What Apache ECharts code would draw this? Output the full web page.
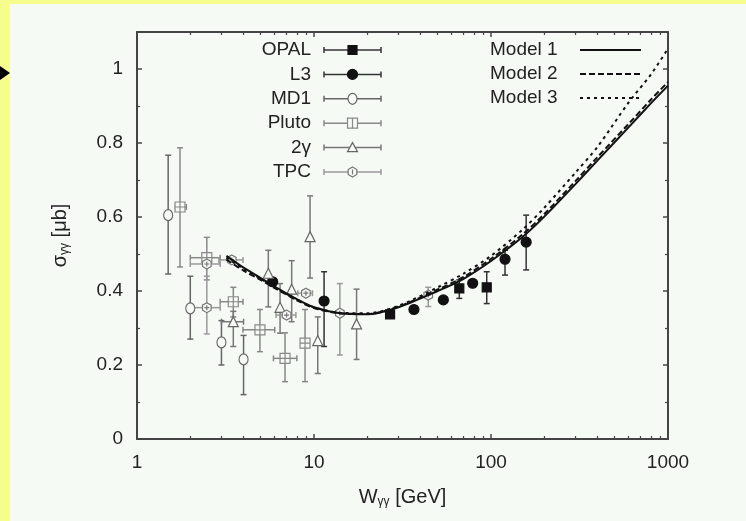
<!DOCTYPE html>
<html lang="en">
<head>
<meta charset="UTF-8">
<title>sigma gamma gamma</title>
<script src="https://cdn.jsdelivr.net/npm/echarts@6/dist/echarts.min.js"></script>
<style>
    html, body { margin: 0; padding: 0; background: #f7fd8c; }
    #main { width: 746px; height: 521px; }
</style>
</head>
<body>
<div id="main"></div>
<script>
    // rows: [W, sigma, sigma low, sigma high, W low, W high]
    var opal = [
        [26.9, 0.337, 0.327, 0.347, 26.9, 26.9],
        [66.2, 0.407, 0.38, 0.43, 66.2, 66.2],
        [94.6, 0.41, 0.366, 0.452, 94.6, 94.6]
    ];
    var l3 = [
        [5.84, 0.425, 0.425, 0.425, 5.84, 5.84],
        [11.4, 0.373, 0.25, 0.452, 11.4, 11.4],
        [36.7, 0.35, 0.35, 0.35, 36.7, 36.7],
        [53.8, 0.376, 0.376, 0.376, 53.8, 53.8],
        [78.8, 0.421, 0.421, 0.421, 78.8, 78.8],
        [120, 0.486, 0.443, 0.51, 120, 120],
        [158, 0.532, 0.457, 0.605, 158, 158]
    ];
    var md1 = [
        [1.5, 0.605, 0.446, 0.767, 1.5, 1.5],
        [2.0, 0.353, 0.27, 0.44, 2.0, 2.0],
        [3.0, 0.261, 0.2, 0.32, 3.0, 3.0],
        [4.0, 0.215, 0.12, 0.28, 4.0, 4.0]
    ];
    var pluto = [
        [1.75, 0.627, 0.465, 0.787, 1.65, 1.9],
        [2.48, 0.49, 0.43, 0.545, 2.0, 2.95],
        [3.5, 0.371, 0.33, 0.41, 2.95, 3.97],
        [4.95, 0.295, 0.236, 0.35, 3.97, 6.0],
        [6.86, 0.218, 0.155, 0.287, 5.9, 8.0],
        [8.9, 0.259, 0.155, 0.35, 8.9, 8.9]
    ];
    var twoGamma = [
        [3.5, 0.317, 0.25, 0.345, 3.0, 4.0],
        [5.52, 0.448, 0.357, 0.51, 5.52, 5.52],
        [6.43, 0.356, 0.286, 0.42, 6.43, 6.43],
        [7.48, 0.405, 0.317, 0.482, 7.48, 7.48],
        [9.5, 0.547, 0.435, 0.657, 9.5, 9.5],
        [10.5, 0.266, 0.177, 0.33, 10.5, 10.5],
        [17.4, 0.311, 0.215, 0.405, 17.4, 17.4]
    ];
    var tpc = [
        [2.48, 0.473, 0.473, 0.473, 2.0, 2.95],
        [2.48, 0.355, 0.284, 0.44, 2.0, 2.95],
        [3.43, 0.484, 0.484, 0.484, 2.9, 3.97],
        [7.0, 0.335, 0.335, 0.335, 6.1, 7.9],
        [9.0, 0.394, 0.394, 0.394, 8.1, 9.8],
        [14.0, 0.34, 0.227, 0.42, 14.0, 14.0],
        [44.2, 0.389, 0.358, 0.41, 44.2, 44.2]
    ];

    // model curves
    var modelW = [3.2, 4, 5, 6, 8, 10, 14, 20, 30, 50, 70, 100, 150, 200, 300, 400, 600, 800, 1000];
    var model1 = [0.495, 0.463, 0.435, 0.412, 0.378, 0.356, 0.34, 0.337, 0.356, 0.40, 0.433, 0.481, 0.545, 0.601, 0.689, 0.753, 0.843, 0.907, 0.955];
    var model2 = [0.485, 0.455, 0.43, 0.408, 0.375, 0.354, 0.34, 0.338, 0.358, 0.404, 0.438, 0.487, 0.552, 0.608, 0.697, 0.762, 0.852, 0.917, 0.965];
    var model3 = [0.49, 0.46, 0.433, 0.41, 0.377, 0.356, 0.341, 0.34, 0.36, 0.41, 0.447, 0.495, 0.565, 0.625, 0.72, 0.79, 0.91, 0.985, 1.055];

    var xMajor = [1, 10, 100, 1000];
    var xMinor = [2, 3, 4, 5, 6, 7, 8, 9, 20, 30, 40, 50, 60, 70, 80, 90, 200, 300, 400, 500, 600, 700, 800, 900];

    var panel = '#f5faf5';
    var axisCol = '#444';
    var font = 'Liberation Sans';

    function pairs(xs, ys) {
        return xs.map(function (x, i) { return [x, ys[i]]; });
    }

    function errBars(color) {
        return function (params, api) {
            var c = api.coord([api.value(0), api.value(1)]);
            var lo = api.coord([api.value(0), api.value(2)]);
            var hi = api.coord([api.value(0), api.value(3)]);
            var l = api.coord([api.value(4), api.value(1)]);
            var r = api.coord([api.value(5), api.value(1)]);
            var st = {stroke: color, lineWidth: 1.5, fill: null};
            var cap = 3;
            var ch = [];
            if (lo[1] - hi[1] > 1) {
                ch.push({type: 'line', shape: {x1: c[0], y1: lo[1], x2: c[0], y2: hi[1]}, style: st});
                ch.push({type: 'line', shape: {x1: c[0] - cap, y1: lo[1], x2: c[0] + cap, y2: lo[1]}, style: st});
                ch.push({type: 'line', shape: {x1: c[0] - cap, y1: hi[1], x2: c[0] + cap, y2: hi[1]}, style: st});
            }
            if (r[0] - l[0] > 1) {
                ch.push({type: 'line', shape: {x1: l[0], y1: c[1], x2: r[0], y2: c[1]}, style: st});
                ch.push({type: 'line', shape: {x1: l[0], y1: c[1] - cap, x2: l[0], y2: c[1] + cap}, style: st});
                ch.push({type: 'line', shape: {x1: r[0], y1: c[1] - cap, x2: r[0], y2: c[1] + cap}, style: st});
            }
            return {type: 'group', children: ch};
        };
    }

    var symSquareCross = 'path://M0,0H10V10H0Z M5,0V10 M0,5H10';
    var symHex = 'path://M5,0L9.3,2.5L9.3,7.5L5,10L0.7,7.5L0.7,2.5Z M5,2.5V7.5 M2.5,5H7.5';

    var exps = [
        {name: 'OPAL', data: opal, bar: '#333', symbol: 'rect', size: 9, fill: '#111', border: '#111'},
        {name: 'L3', data: l3, bar: '#333', symbol: 'circle', size: 10, fill: '#111', border: '#111'},
        {name: 'MD1', data: md1, bar: '#666', symbol: 'circle', size: [9, 11], fill: panel, border: '#666'},
        {name: 'Pluto', data: pluto, bar: '#888', symbol: symSquareCross, size: 10, fill: panel, border: '#888'},
        {name: '2γ', data: twoGamma, bar: '#777', symbol: 'triangle', size: 10, fill: panel, border: '#666'},
        {name: 'TPC', data: tpc, bar: '#999', symbol: symHex, size: 10, fill: panel, border: '#777'}
    ];

    var series = [];
    exps.forEach(function (e) {
        series.push({
            name: e.name + ' err', type: 'custom',
            renderItem: errBars(e.bar), encode: {x: 0, y: 1}, data: e.data, z: 3, silent: true
        });
        series.push({
            name: e.name, type: 'scatter',
            data: e.data.map(function (d) { return [d[0], d[1]]; }),
            symbol: e.symbol, symbolSize: e.size, symbolKeepAspect: true,
            itemStyle: {color: e.fill, borderColor: e.border, borderWidth: 1.2, opacity: 1},
            z: 4, silent: true
        });
    });

    var models = [
        {name: 'Model 1', ys: model1, type: 'solid'},
        {name: 'Model 2', ys: model2, type: [6, 3]},
        {name: 'Model 3', ys: model3, type: [3, 4]}
    ];
    models.forEach(function (m) {
        series.push({
            name: m.name, type: 'line',
            data: pairs(modelW, m.ys), smooth: 0.3, symbol: 'none', silent: true,
            lineStyle: {color: '#111', width: 2, type: m.type}, z: 5
        });
    });

    // legend icon for an experiment, centred on (cx, cy)
    function legendIcon(i, cx, cy) {
        var e = exps[i];
        var st = {fill: e.fill, stroke: e.border, lineWidth: 1.2};
        if (i === 0) return {type: 'rect', z: 11, shape: {x: cx - 4.5, y: cy - 4.5, width: 9, height: 9}, style: st};
        if (i === 1) return {type: 'circle', z: 11, shape: {cx: cx, cy: cy, r: 5}, style: st};
        if (i === 2) return {type: 'ellipse', z: 11, shape: {cx: cx, cy: cy, rx: 4.5, ry: 5.5}, style: st};
        if (i === 3) return {type: 'group', z: 11, children: [
            {type: 'rect', z: 11, shape: {x: cx - 5, y: cy - 5, width: 10, height: 10}, style: st},
            {type: 'line', z: 11, shape: {x1: cx, y1: cy - 5, x2: cx, y2: cy + 5}, style: st}
        ]};
        if (i === 4) return {type: 'polygon', z: 11, shape: {points: [[cx, cy - 5], [cx + 5, cy + 4], [cx - 5, cy + 4]]}, style: st};
        return {type: 'group', z: 11, children: [
            {type: 'polygon', z: 11, shape: {points: [[cx, cy - 5], [cx + 4.3, cy - 2.5], [cx + 4.3, cy + 2.5], [cx, cy + 5], [cx - 4.3, cy + 2.5], [cx - 4.3, cy - 2.5]]}, style: st},
            {type: 'line', z: 11, shape: {x1: cx, y1: cy - 2.5, x2: cx, y2: cy + 2.5}, style: st}
        ]};
    }

    var g = [{
        type: 'rect', left: 10, top: 4, z: -10,
        shape: {width: 736, height: 517}, style: {fill: panel}
    }, {
        type: 'polygon', z: 10,
        shape: {points: [[0, 66], [10, 73], [0, 80]]}, style: {fill: '#000'}
    }];
    exps.forEach(function (e, i) {
        var y = 50 + 24.4 * i;
        var st = {stroke: e.bar, lineWidth: 1.5};
        g.push({type: 'text', x: 311, y: y, z: 10,
            style: {text: e.name, font: '19px "' + font + '"', fill: '#222', align: 'right', verticalAlign: 'middle'}});
        g.push({type: 'line', z: 10, shape: {x1: 324, y1: y, x2: 381, y2: y}, style: st});
        g.push({type: 'line', z: 10, shape: {x1: 324, y1: y - 3, x2: 324, y2: y + 3}, style: st});
        g.push({type: 'line', z: 10, shape: {x1: 381, y1: y - 3, x2: 381, y2: y + 3}, style: st});
        g.push(legendIcon(i, 352.5, y));
    });
    models.forEach(function (m, i) {
        var y = 50 + 24 * i;
        g.push({type: 'text', x: 490, y: y, z: 10,
            style: {text: m.name, font: '19px "' + font + '"', fill: '#222', align: 'left', verticalAlign: 'middle'}});
        g.push({type: 'line', z: 10, shape: {x1: 580, y1: y, x2: 641, y2: y},
            style: {stroke: '#111', lineWidth: 2, lineDash: m.type === 'solid' ? null : m.type}});
    });

    var tickLbl = {fontFamily: font, fontSize: 19, color: '#222'};
    var axLine = {show: true, lineStyle: {color: axisCol, width: 2}};
    var subRich = {
        a: {fontFamily: font, fontSize: 20, color: '#222'},
        s: {fontFamily: font, fontSize: 12, color: '#222', padding: [9, 0, 0, 0]}
    };

    var chart = echarts.init(document.getElementById('main'));
    chart.setOption({
        backgroundColor: '#f7fd8c',
        animation: false,
        textStyle: {fontFamily: font},
        grid: {left: 137, right: 78, top: 32, bottom: 82},
        graphic: g,
        xAxis: [{
            type: 'log', logBase: 10, min: 1, max: 1000, position: 'bottom',
            name: '{a|W}{s|γγ}{a| [GeV]}', nameLocation: 'middle', nameGap: 48,
            nameTextStyle: {rich: subRich},
            axisLine: axLine,
            axisTick: {inside: true, length: 5, customValues: xMajor, lineStyle: {color: axisCol, width: 1.5}},
            axisLabel: Object.assign({margin: 14, customValues: xMajor, formatter: function (v) { return String(Math.round(v)); }}, tickLbl),
            splitLine: {show: false}, minorTick: {show: false}
        }, {
            type: 'log', logBase: 10, min: 1, max: 1000, position: 'bottom',
            axisLine: {show: false},
            axisTick: {inside: true, length: 3, customValues: xMinor, lineStyle: {color: axisCol, width: 1.2}},
            axisLabel: {show: false}, splitLine: {show: false}
        }, {
            type: 'log', logBase: 10, min: 1, max: 1000, position: 'top',
            axisLine: axLine,
            axisTick: {inside: true, length: 5, customValues: xMajor, lineStyle: {color: axisCol, width: 1.5}},
            axisLabel: {show: false}, splitLine: {show: false}
        }, {
            type: 'log', logBase: 10, min: 1, max: 1000, position: 'top',
            axisLine: {show: false},
            axisTick: {inside: true, length: 3, customValues: xMinor, lineStyle: {color: axisCol, width: 1.2}},
            axisLabel: {show: false}, splitLine: {show: false}
        }],
        yAxis: [{
            type: 'value', min: 0, max: 1.1, interval: 0.2, position: 'left',
            name: '{a|σ}{s|γγ}{a| [μb]}', nameLocation: 'middle', nameGap: 66, nameRotate: 90,
            nameTextStyle: {rich: subRich},
            axisLine: axLine,
            axisTick: {inside: true, length: 5, lineStyle: {color: axisCol, width: 1.5}},
            minorTick: {show: true, splitNumber: 2, length: 3, lineStyle: {color: axisCol, width: 1.2}},
            axisLabel: Object.assign({margin: 14, showMaxLabel: false}, tickLbl),
            splitLine: {show: false}
        }, {
            type: 'value', min: 0, max: 1.1, interval: 0.2, position: 'right',
            axisLine: axLine,
            axisTick: {inside: true, length: 5, lineStyle: {color: axisCol, width: 1.5}},
            minorTick: {show: true, splitNumber: 2, length: 3, lineStyle: {color: axisCol, width: 1.2}},
            axisLabel: {show: false}, splitLine: {show: false}
        }],
        series: series
    });
</script>
</body>
</html>
